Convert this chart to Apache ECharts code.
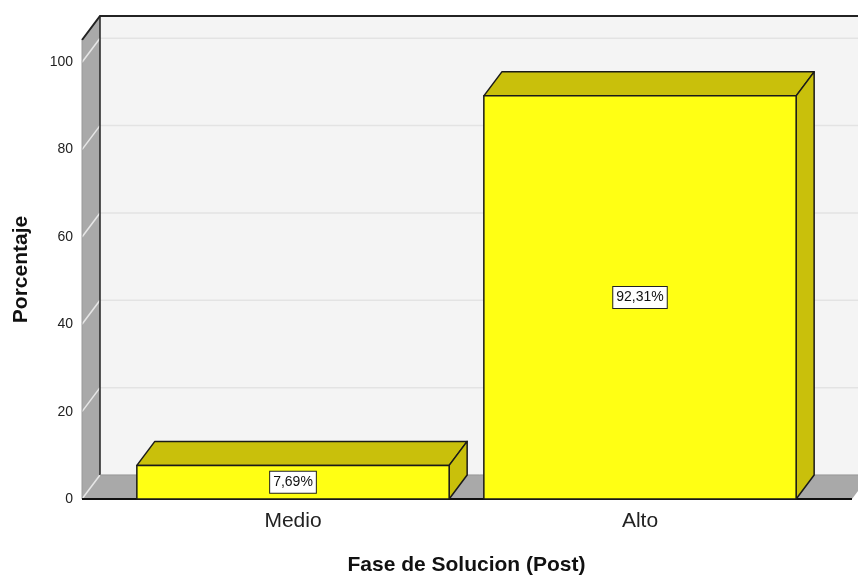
<!DOCTYPE html>
<html><head><meta charset="utf-8">
<script src="https://cdn.jsdelivr.net/npm/echarts@6/dist/echarts.min.js"></script>
<style>html,body{margin:0;padding:0;background:#fff;overflow:hidden}#c{width:858px;height:581px}</style>
</head><body><div id="c"></div>
<script>
const categories = ['Medio', 'Alto'];
const percentages = [7.69, 92.31];
const yTicks = [0, 20, 40, 60, 80, 100];
const yMax = 105.1;

const DX = 18, DY = -24;
const WALL_PAD_L = 37.5, WALL_PAD_R = 38.5;
const FONT = '"Liberation Sans", Arial, sans-serif';

const chart = echarts.init(document.getElementById('c'), null, {renderer: 'canvas', width: 858, height: 581});

function fmt(v) { return v.toFixed(2).replace('.', ',') + '%'; }

function frameRender(params, api) {
  const cs = params.coordSys;
  const x0 = cs.x - WALL_PAD_L;
  const x1 = cs.x + cs.width + WALL_PAD_R;
  const yb = api.coord([0, 0])[1];
  const yt = api.coord([0, yMax])[1];
  const bx0 = x0 + DX, bx1 = x1 + DX + 60;
  const ch = [];
  ch.push({type: 'rect', shape: {x: bx0, y: yt + DY, width: bx1 - bx0, height: yb - yt}, style: {fill: '#f4f4f4'}});
  yTicks.forEach(v => {
    const y = api.coord([0, v])[1];
    ch.push({type: 'line', shape: {x1: bx0, y1: y + DY, x2: bx1, y2: y + DY}, style: {stroke: '#e3e3e3', lineWidth: 1.5}});
  });
  ch.push({type: 'polygon', shape: {points: [[x0, yt], [bx0, yt + DY], [bx0, yb + DY], [x0, yb]]}, style: {fill: '#a9a9a9'}});
  ch.push({type: 'polygon', shape: {points: [[x0, yb], [bx0, yb + DY], [x1 + DX, yb + DY], [x1, yb]]}, style: {fill: '#a9a9a9'}});
  yTicks.forEach(v => {
    const y = api.coord([0, v])[1];
    ch.push({type: 'line', shape: {x1: x0, y1: y, x2: bx0, y2: y + DY}, style: {stroke: '#e6e6e6', lineWidth: 1.5}});
  });
  ch.push({type: 'line', shape: {x1: bx0, y1: yt + DY, x2: bx0, y2: yb + DY}, style: {stroke: '#222', lineWidth: 1.5}});
  ch.push({type: 'line', shape: {x1: bx0, y1: yb + DY, x2: x1 + DX, y2: yb + DY}, style: {stroke: '#999', lineWidth: 1}});
  ch.push({type: 'polyline', shape: {points: [[x0, yt], [bx0, yt + DY], [bx1, yt + DY]]}, style: {stroke: '#222', lineWidth: 2, fill: null}});
  ch.push({type: 'line', shape: {x1: x0, y1: yt, x2: x0, y2: yb}, style: {stroke: '#9a9a9a', lineWidth: 1}});
  ch.push({type: 'line', shape: {x1: x0, y1: yb, x2: x1, y2: yb}, style: {stroke: '#111', lineWidth: 2}});
  return {type: 'group', children: ch};
}

function barRender(params, api) {
  const idx = api.value(0), val = api.value(1);
  const band = api.size([1, 0])[0];
  const bw = band * 0.9;
  const pb = api.coord([idx, 0]), pt = api.coord([idx, val]);
  const xl = pb[0] - bw / 2, xr = pb[0] + bw / 2, yb = pb[1], yt = pt[1];
  const edge = {stroke: '#1a1a1a', lineWidth: 1.5, lineJoin: 'round'};
  return {type: 'group', children: [
    {type: 'polygon', shape: {points: [[xl, yt], [xl + DX, yt + DY], [xr + DX, yt + DY], [xr, yt]]}, style: Object.assign({fill: '#c9c00b'}, edge)},
    {type: 'polygon', shape: {points: [[xr, yt], [xr + DX, yt + DY], [xr + DX, yb + DY], [xr, yb]]}, style: Object.assign({fill: '#c9c00b'}, edge)},
    {type: 'rect', shape: {x: xl, y: yt, width: bw, height: yb - yt}, style: Object.assign({fill: '#ffff14'}, edge)},
    {type: 'text', x: pb[0], y: (yt + yb) / 2, z2: 10, style: {
      text: fmt(val), fontFamily: FONT, fontSize: 14, fill: '#111',
      align: 'center', verticalAlign: 'middle',
      backgroundColor: '#ffffff', borderColor: '#222', borderWidth: 1, padding: [4, 3, 3, 3]
    }}
  ]};
}

chart.setOption({
  animation: false,
  backgroundColor: '#ffffff',
  grid: {left: 119.5, width: 694, top: 40, height: 463.5},
  xAxis: {
    type: 'category', data: categories,
    axisLine: {show: false}, axisTick: {show: false}, splitLine: {show: false},
    axisLabel: {fontFamily: FONT, fontSize: 21, color: '#222', margin: 12},
    name: 'Fase de Solucion (Post)', nameLocation: 'middle', nameGap: 56,
    nameTextStyle: {fontFamily: FONT, fontSize: 21, fontWeight: 'bold', color: '#111'}
  },
  yAxis: {
    type: 'value', min: 0, max: yMax, interval: 20, offset: 37.5,
    axisLine: {show: false}, axisTick: {show: false}, splitLine: {show: false},
    axisLabel: {fontFamily: FONT, fontSize: 14, color: '#222', margin: 9, showMaxLabel: false, padding: [6, 0, 0, 0]},
    name: 'Porcentaje', nameLocation: 'middle', nameGap: 50,
    nameTextStyle: {fontFamily: FONT, fontSize: 21, fontWeight: 'bold', color: '#111'}
  },
  series: [
    {type: 'custom', z: 1, clip: false, renderItem: frameRender, data: [[0, 0]], silent: true},
    {type: 'custom', z: 2, clip: false, renderItem: barRender, data: categories.map((c, i) => [i, percentages[i]])}
  ]
});
</script>
</body></html>
